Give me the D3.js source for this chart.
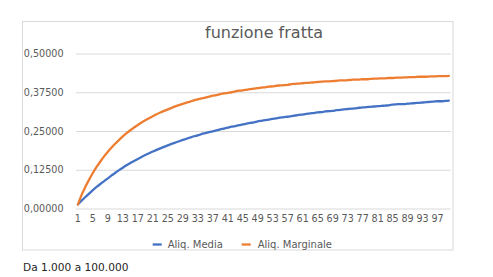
<!DOCTYPE html>
<html><head><meta charset="utf-8">
<script src="https://cdn.jsdelivr.net/npm/d3@7"></script>
<style>
html,body{margin:0;padding:0;background:#fff;}
svg{display:block;font-family:"DejaVu Sans",sans-serif;}
</style></head>
<body>
<svg id="c" width="493" height="277"></svg>
<script>
const title = "funzione fratta";
const footer = "Da 1.000 a 100.000";
const seriesNames = ["Aliq. Media", "Aliq. Marginale"];
const categories = d3.range(1, 101);
const yTicks = [0, 0.125, 0.25, 0.375, 0.5];
const media = [0.0130,0.0252,0.0370,0.0483,0.0591,0.0694,0.0791,0.0882,0.0973,0.1066,
0.1154,0.1238,0.1317,0.1393,0.1465,0.1534,0.1600,0.1663,0.1723,0.1781,
0.1837,0.1890,0.1941,0.1990,0.2038,0.2083,0.2127,0.2170,0.2211,0.2250,
0.229,0.233,0.236,0.240,0.243,0.246,0.249,0.252,0.255,0.258,
0.261,0.264,0.266,0.269,0.271,0.274,0.276,0.278,0.281,0.283,
0.285,0.287,0.289,0.291,0.293,0.295,0.296,0.298,0.300,0.302,
0.303,0.305,0.307,0.308,0.310,0.311,0.313,0.314,0.315,0.317,
0.318,0.320,0.321,0.322,0.323,0.325,0.326,0.327,0.328,0.329,
0.330,0.331,0.332,0.333,0.335,0.336,0.337,0.337,0.338,0.339,
0.340,0.341,0.342,0.343,0.344,0.345,0.346,0.346,0.347,0.348];
const marginale = [0.0130,0.0440,0.0698,0.0932,0.1145,0.1339,0.1517,0.1681,0.1831,0.1970,
0.2098,0.2216,0.2326,0.2429,0.2524,0.2613,0.2696,0.2773,0.2846,0.2914,
0.2978,0.3038,0.3095,0.3149,0.3199,0.3247,0.3292,0.3335,0.3375,0.3414,
0.345,0.349,0.352,0.355,0.358,0.361,0.364,0.366,0.369,0.371,
0.373,0.375,0.378,0.380,0.381,0.383,0.385,0.387,0.388,0.390,
0.391,0.393,0.394,0.396,0.397,0.398,0.399,0.401,0.402,0.403,
0.404,0.405,0.406,0.407,0.408,0.409,0.410,0.410,0.411,0.412,
0.413,0.413,0.414,0.415,0.416,0.416,0.417,0.417,0.418,0.419,
0.419,0.420,0.420,0.421,0.421,0.422,0.422,0.423,0.423,0.424,
0.424,0.425,0.425,0.425,0.426,0.426,0.427,0.427,0.427,0.428];
const colors = ["#4472C4", "#ED7D31"];

const svg = d3.select("#c");
const it = d3.formatLocale({decimal:",", thousands:".", grouping:[3], currency:["","€"]});
const fmt = it.format(".5f");

// chart border
svg.append("rect").attr("x",22.5).attr("y",21.5).attr("width",430.5).attr("height",228.5)
  .attr("fill","#fff").attr("stroke","#d9d9d9").attr("stroke-width",1);

const x = d3.scaleBand().domain(categories).range([76, 450.7]).padding(0);
const y = d3.scaleLinear().domain([0, 0.5]).range([208.5, 53.5]);

// y axis with gridlines
const ya = svg.append("g").attr("transform","translate(76,0)")
  .call(d3.axisLeft(y).tickValues(yTicks).tickFormat(fmt).tickSize(-374.7).tickPadding(12.5));
ya.select(".domain").remove();
ya.selectAll(".tick line").attr("stroke","#d9d9d9").attr("stroke-width",1);
ya.selectAll(".tick text").attr("fill","#595959").style("font-size","9.6px")
  .style("font-family","'DejaVu Sans',sans-serif");

// x axis
const xa = svg.append("g").attr("transform","translate(0,208.5)")
  .call(d3.axisBottom(x).tickValues(categories.filter((d,i)=>i%4===0)).tickSize(0).tickPadding(7));
xa.select(".domain").remove();
xa.selectAll(".tick text").attr("fill","#595959").style("font-size","9.6px")
  .style("font-family","'DejaVu Sans',sans-serif");

// lines
const cx = d => x(d) + x.bandwidth()/2;
[media, marginale].forEach((vals, k) => {
  const line = d3.line().x((v,i)=>cx(categories[i])).y(v=>y(v)).curve(d3.curveMonotoneX);
  svg.append("path").datum(vals).attr("d", line).attr("fill","none")
    .attr("stroke", colors[k]).attr("stroke-width", 2.3).attr("stroke-linecap","round");
});

// title
svg.append("text").attr("x",264).attr("y",37.5).attr("text-anchor","middle")
  .attr("fill","#595959").style("font-size","16px").text(title);

// legend
const legendPos = [[152.7, 167.7], [241.7, 257.7]];
seriesNames.forEach((n, k) => {
  svg.append("line").attr("x1",legendPos[k][0]).attr("x2",legendPos[k][0]+9)
    .attr("y1",244.5).attr("y2",244.5).attr("stroke",colors[k]).attr("stroke-width",2.3);
  svg.append("text").attr("x",legendPos[k][1]).attr("y",248).attr("fill","#595959")
    .style("font-size","10px").text(n);
});

// footer
svg.append("text").attr("x",23).attr("y",270.5).attr("fill","#262626")
  .style("font-size","10.6px").text(footer);
</script>
</body></html>
